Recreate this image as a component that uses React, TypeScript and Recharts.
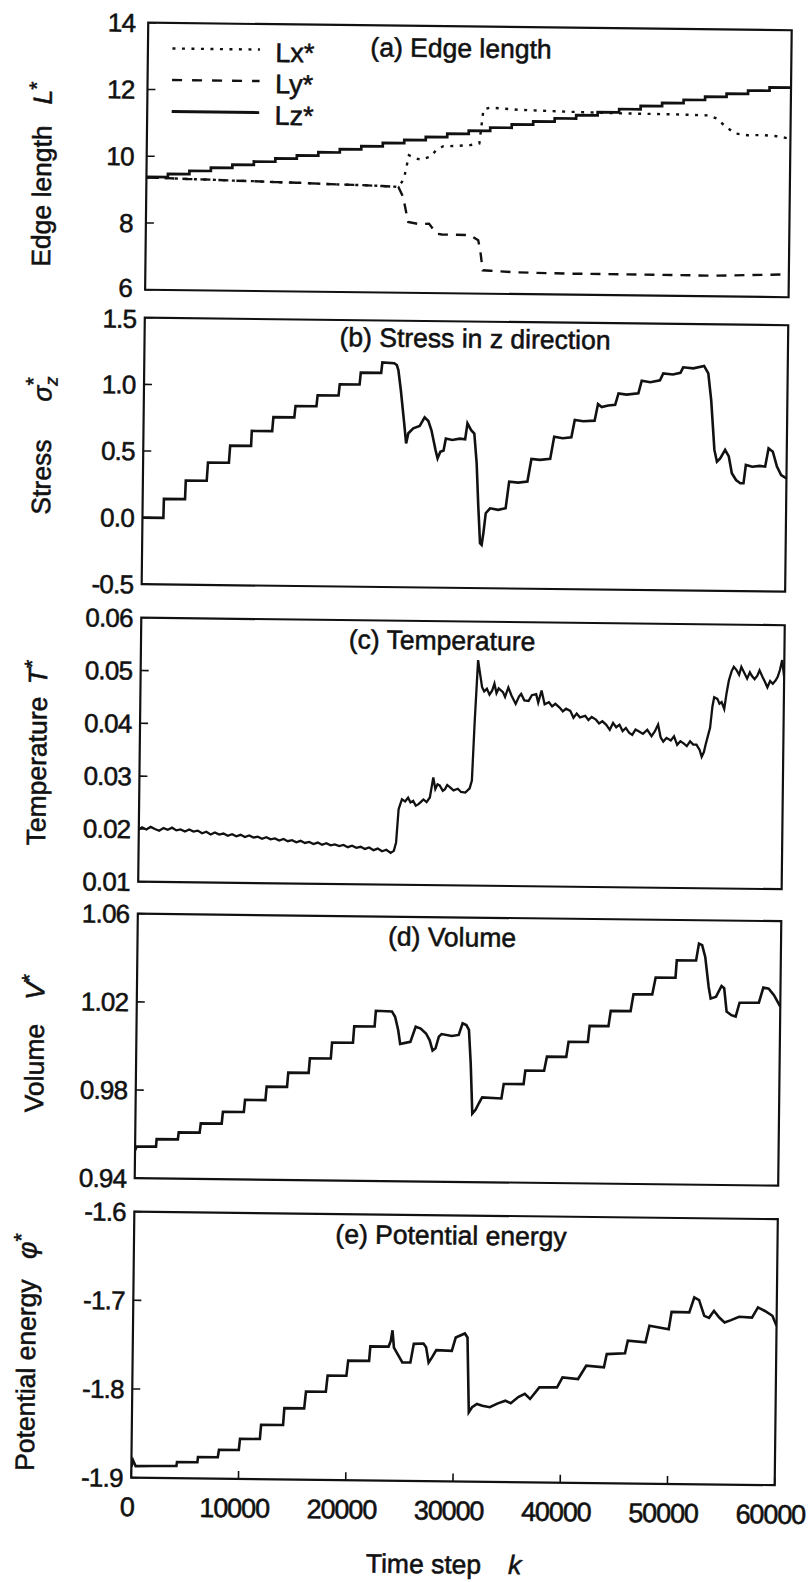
import React from 'react';
import { LineChart, Line, XAxis, YAxis, ReferenceArea, Legend } from 'recharts';

const FONT = '"Liberation Sans", Arial, Helvetica, sans-serif';
const INK = '#111';
const TXT_STROKE = 0.55;
const TICK_FS = 26;

const X_TICKS = [0, 10000, 20000, 30000, 40000, 50000, 60000];
const TICKS_A = [6, 8, 10, 12, 14];
const TICKS_B = [-0.5, 0, 0.5, 1.0, 1.5];
const TICKS_C = [0.01, 0.02, 0.03, 0.04, 0.05, 0.06];
const TICKS_D = [0.94, 0.98, 1.02, 1.06];
const TICKS_E = [-1.9, -1.8, -1.7, -1.6];

// (a) edge lengths
const LX: [number, number][] = [
  [0, 9.36], [2000, 9.35], [4000, 9.33], [6000, 9.32], [8000, 9.3], [10000, 9.29], [12000, 9.27],
  [14000, 9.26], [16000, 9.24], [18000, 9.22], [20000, 9.21], [22000, 9.19], [23500, 9.17],
  [24000, 9.4], [24450, 10.12], [25000, 10.04], [25550, 9.99], [26400, 10.08], [27000, 10.28],
  [27600, 10.4], [29000, 10.42], [30200, 10.45], [31000, 10.5], [31350, 11.52], [32000, 11.58],
  [34600, 11.52], [39400, 11.48], [44200, 11.45], [49000, 11.44], [52400, 11.42], [53100, 11.33],
  [53800, 11.13], [54800, 10.89], [56000, 10.84], [57300, 10.85], [58700, 10.82], [60000, 10.75],
];
const LY: [number, number][] = [
  [0, 9.36], [2000, 9.35], [4000, 9.33], [6000, 9.32], [8000, 9.3], [10000, 9.29], [12000, 9.27],
  [14000, 9.26], [16000, 9.24], [18000, 9.22], [20000, 9.21], [22000, 9.19], [23500, 9.17],
  [23950, 8.87], [24450, 8.12], [25500, 8.06], [26400, 8.08], [27100, 7.78], [27600, 7.76],
  [30200, 7.75], [31000, 7.6], [31200, 7.3], [31450, 6.7], [32200, 6.69], [34600, 6.65],
  [39400, 6.63], [44200, 6.63], [49000, 6.625], [53100, 6.62], [60000, 6.685],
];
const LZ: [number, number][] = [
  [0, 9.38], [2000, 9.48], [4000, 9.58], [6000, 9.68], [8000, 9.78], [10000, 9.88], [12000, 9.98],
  [14000, 10.08], [16000, 10.18], [18000, 10.28], [20000, 10.38], [22000, 10.48], [24000, 10.58],
  [26000, 10.68], [28000, 10.78], [30000, 10.88], [32000, 10.98], [34000, 11.08], [36000, 11.18],
  [38000, 11.28], [40000, 11.38], [42000, 11.48], [44000, 11.58], [46000, 11.68], [48000, 11.78],
  [50000, 11.88], [52000, 11.98], [54000, 12.08], [56000, 12.18], [58000, 12.28], [60000, 12.28],
];

// (b) stress
const STRESS: [number, number][] = [
  [0, 0.0], [1950, 0.0], [1980, 0.142], [3950, 0.142], [4000, 0.282], [5950, 0.282], [6050, 0.419],
  [8000, 0.419], [8100, 0.548], [10050, 0.548], [10100, 0.66], [12000, 0.66], [12100, 0.765],
  [14050, 0.765], [14150, 0.851], [16100, 0.851], [16200, 0.933], [18150, 0.933], [18250, 1.0175],
  [20100, 1.0175], [20200, 1.107], [22100, 1.107], [22200, 1.186], [23300, 1.18], [23550, 1.167],
  [23700, 1.13], [23950, 0.98], [24300, 0.73], [24500, 0.58], [24700, 0.656], [25150, 0.694],
  [25750, 0.712], [26200, 0.777], [26550, 0.75], [26850, 0.68], [27250, 0.533], [27450, 0.47],
  [27700, 0.52], [28000, 0.53], [28200, 0.62], [28800, 0.61], [29500, 0.62], [30000, 0.615],
  [30200, 0.736], [30550, 0.685], [30850, 0.66], [31100, 0.437], [31300, 0.112], [31500, -0.163],
  [31650, -0.175], [31800, -0.088], [32000, 0.063], [32400, 0.1], [33150, 0.089], [33850, 0.102],
  [34150, 0.302], [35000, 0.295], [35850, 0.304], [36200, 0.474], [37000, 0.468], [37950, 0.476],
  [38300, 0.643], [39100, 0.632], [39900, 0.64], [40200, 0.77], [41000, 0.762], [42050, 0.767],
  [42350, 0.892], [42700, 0.87], [43300, 0.882], [43950, 0.887], [44250, 0.974], [45000, 0.965],
  [46100, 0.976], [46400, 1.071], [47200, 1.06], [48100, 1.075], [48400, 1.128], [49300, 1.12],
  [50000, 1.134], [50250, 1.175], [51200, 1.168], [52200, 1.187], [52600, 1.132], [52900, 0.93],
  [53250, 0.558], [53500, 0.47], [53800, 0.495], [54250, 0.559], [54600, 0.51], [54900, 0.384],
  [55300, 0.334], [55700, 0.31], [56000, 0.31], [56200, 0.448], [56800, 0.435], [57500, 0.442],
  [58000, 0.437], [58300, 0.575], [58700, 0.55], [59100, 0.438], [59500, 0.375], [60000, 0.35],
];

// (c) temperature
const TEMP: [number, number][] = [
  [0, 0.0199], [300, 0.0203], [700, 0.0199], [1100, 0.0204], [1500, 0.02], [1900, 0.0197],
  [2300, 0.0202], [2700, 0.0199], [3100, 0.0203], [3500, 0.0198], [3900, 0.02], [4300, 0.0196],
  [4700, 0.02], [5100, 0.0196], [5500, 0.0198], [5900, 0.0193], [6300, 0.0196], [6700, 0.0191],
  [7100, 0.0195], [7500, 0.0191], [7900, 0.0193], [8300, 0.0189], [8700, 0.0192], [9100, 0.0188],
  [9500, 0.0191], [9900, 0.0187], [10300, 0.019], [10700, 0.0186], [11100, 0.0188], [11500, 0.0184],
  [11900, 0.0187], [12300, 0.0183], [12700, 0.0185], [13100, 0.0181], [13500, 0.0184], [13900, 0.018],
  [14300, 0.0182], [14700, 0.0178], [15100, 0.0181], [15500, 0.0177], [15900, 0.0179], [16300, 0.0175],
  [16700, 0.0178], [17100, 0.0174], [17500, 0.0177], [17900, 0.0173], [18300, 0.0175], [18700, 0.0172],
  [19100, 0.0174], [19500, 0.017], [19900, 0.0173], [20300, 0.0169], [20700, 0.0171], [21100, 0.0167],
  [21500, 0.017], [21900, 0.0165], [22300, 0.0168], [22700, 0.0163], [23100, 0.0166], [23500, 0.016],
  [23800, 0.0164], [24000, 0.018], [24200, 0.0243], [24500, 0.0262], [24800, 0.0258], [25070, 0.0265],
  [25300, 0.0256], [25550, 0.0259], [25800, 0.025], [26050, 0.0253], [26300, 0.0258], [26500, 0.0262],
  [26800, 0.0257], [27100, 0.0266], [27400, 0.0304], [27600, 0.0282], [27800, 0.0291], [28000, 0.0289],
  [28300, 0.0279], [28500, 0.0282], [28700, 0.029], [28950, 0.0286], [29300, 0.028], [29700, 0.0283],
  [30000, 0.0277], [30400, 0.0276], [30800, 0.0284], [31000, 0.0299], [31200, 0.0412], [31450, 0.0527],
  [31650, 0.0501], [31850, 0.0476], [32050, 0.0468], [32300, 0.0473], [32550, 0.0462], [32800, 0.047],
  [33000, 0.0483], [33200, 0.0465], [33400, 0.0474], [33800, 0.0467], [34000, 0.0458], [34300, 0.0476],
  [34600, 0.0461], [35000, 0.0445], [35300, 0.0459], [35500, 0.0464], [35800, 0.0452], [36200, 0.0451],
  [36500, 0.0462], [36900, 0.0464], [37100, 0.0448], [37400, 0.0471], [37700, 0.0445], [38100, 0.0449],
  [38400, 0.0441], [38700, 0.0446], [39100, 0.0439], [39400, 0.0432], [39700, 0.0437], [40100, 0.0433],
  [40400, 0.042], [40700, 0.0428], [41000, 0.0421], [41500, 0.0424], [41800, 0.0416], [42100, 0.0422],
  [42500, 0.0417], [42800, 0.041], [43100, 0.0414], [43450, 0.0408], [43800, 0.0398], [44100, 0.0411],
  [44400, 0.0403], [44700, 0.0408], [45000, 0.0396], [45300, 0.0402], [45600, 0.0393], [45900, 0.0389],
  [46200, 0.0399], [46500, 0.0396], [46900, 0.0391], [47300, 0.0399], [47700, 0.0387], [48000, 0.0396],
  [48300, 0.0409], [48550, 0.0385], [48800, 0.0377], [49100, 0.0384], [49500, 0.0379], [49800, 0.0387],
  [50100, 0.0371], [50400, 0.0378], [50700, 0.0374], [51000, 0.0369], [51300, 0.0378], [51600, 0.0372],
  [51900, 0.0372], [52200, 0.0362], [52400, 0.0349], [52600, 0.0358], [52750, 0.0372], [53000, 0.0392],
  [53150, 0.0404], [53350, 0.0445], [53500, 0.0462], [53800, 0.0459], [54000, 0.045], [54200, 0.0453],
  [54450, 0.044], [54650, 0.047], [54850, 0.0494], [55100, 0.0512], [55300, 0.052], [55550, 0.0514],
  [55800, 0.0505], [56000, 0.052], [56300, 0.0508], [56550, 0.0498], [56800, 0.051], [57000, 0.0503],
  [57250, 0.0497], [57500, 0.0504], [57700, 0.0514], [58000, 0.0501], [58200, 0.0493], [58450, 0.0482],
  [58700, 0.0494], [58950, 0.0489], [59200, 0.0495], [59400, 0.0502], [59600, 0.0515], [59800, 0.0534],
  [60000, 0.0502],
];

// (d) volume
const VOLUME: [number, number][] = [
  [0, 0.9527], [150, 0.9544], [1950, 0.9544], [2000, 0.9578], [3980, 0.9578], [4050, 0.961],
  [6000, 0.961], [6100, 0.9652], [8050, 0.9652], [8150, 0.9706], [10100, 0.9706], [10200, 0.9761],
  [12100, 0.9761], [12200, 0.9822], [14100, 0.9822], [14200, 0.9887], [16100, 0.9887], [16200, 0.9953],
  [18150, 0.9953], [18250, 1.0026], [20200, 1.0026], [20300, 1.0101], [22200, 1.0101], [22300, 1.0172],
  [23800, 1.017], [24100, 1.0146], [24400, 1.0086], [24600, 1.0023], [25070, 1.0028], [25550, 1.0033],
  [26030, 1.0102], [26500, 1.0094], [27000, 1.0072], [27350, 1.0041], [27630, 0.9995], [27900, 1.0005],
  [28200, 1.0058], [28450, 1.007], [29400, 1.0062], [30050, 1.0067], [30400, 1.012], [30750, 1.0112],
  [31000, 1.009], [31200, 0.9938], [31400, 0.9711], [31700, 0.9728], [32000, 0.9758], [32300, 0.9785],
  [34100, 0.9781], [34300, 0.9847], [36150, 0.9847], [36300, 0.9909], [38050, 0.9909], [38300, 0.9973],
  [40100, 0.9973], [40300, 1.0042], [42100, 1.0042], [42250, 1.0115], [44000, 1.0115], [44200, 1.0184],
  [46050, 1.0184], [46300, 1.0261], [48050, 1.0261], [48350, 1.0338], [50200, 1.0338], [50300, 1.0417],
  [52100, 1.0417], [52350, 1.0494], [52650, 1.0487], [52950, 1.0434], [53300, 1.0298], [53500, 1.0245],
  [54000, 1.0254], [54500, 1.0303], [54750, 1.0293], [55000, 1.0187], [55450, 1.0171], [55850, 1.0165],
  [56200, 1.0228], [58000, 1.0229], [58400, 1.0298], [58900, 1.0293], [59400, 1.0264], [60000, 1.0212],
];

// (e) potential energy
const ENERGY: [number, number][] = [
  [0, -1.8879], [150, -1.8803], [400, -1.887], [2000, -1.8866], [4200, -1.8863], [4250, -1.8818],
  [6150, -1.8818], [6200, -1.8759], [8050, -1.8759], [8150, -1.8674], [10000, -1.8674], [10100, -1.8547],
  [11950, -1.8547], [12050, -1.8387], [14100, -1.8387], [14200, -1.8196], [16050, -1.8196], [16200, -1.8006],
  [18050, -1.8006], [18200, -1.7823], [19950, -1.7823], [20100, -1.7652], [22050, -1.7652], [22150, -1.7488],
  [23850, -1.7488], [24050, -1.7425], [24200, -1.7304], [24350, -1.7499], [24700, -1.7573], [25150, -1.7666],
  [25900, -1.7664], [26200, -1.7454], [27100, -1.7449], [27350, -1.7492], [27600, -1.7662], [27900, -1.7607],
  [28300, -1.7522], [29750, -1.7528], [30100, -1.7377], [30950, -1.733], [31200, -1.7375], [31400, -1.8218],
  [31700, -1.8161], [32150, -1.8123], [32650, -1.8143], [33350, -1.8158], [34100, -1.8114], [34800, -1.8083],
  [35300, -1.811], [36000, -1.804], [36600, -1.8003], [37100, -1.806], [37950, -1.7928], [39600, -1.7926],
  [40100, -1.7813], [41550, -1.7829], [42300, -1.7678], [43950, -1.7694], [44200, -1.7544], [45900, -1.7533],
  [46150, -1.7391], [47800, -1.7407], [48150, -1.7219], [49950, -1.7255], [50200, -1.7059], [51850, -1.7063],
  [52300, -1.6894], [52750, -1.6923], [53250, -1.71], [53700, -1.7122], [54150, -1.7042], [54650, -1.7117],
  [55150, -1.7172], [55750, -1.7145], [56500, -1.7106], [57700, -1.7113], [58250, -1.6998], [58900, -1.7037],
  [59600, -1.709], [60000, -1.7202],
];

const rows = (arr: [number, number][]) => arr.map(([k, v]) => ({ k, v }));

const PLOT_LEFT = 148.5;
const PLOT_RIGHT = 792;
const CW = 830;
const PAD = 26;

const YTick = (props: any) => {
  const { x, y, payload, fmt, gap, shift } = props;
  const sh = shift ? shift(payload.value) : 0;
  return (
    <g>
      <line x1={x} y1={y} x2={x + 8} y2={y} stroke={INK} strokeWidth={1.6} />
      <text
        x={x - gap}
        y={y + sh}
        dy="0.36em"
        textAnchor="end"
        fontFamily={FONT}
        fontSize={TICK_FS}
        letterSpacing={-0.8}
        fill={INK}
        stroke={INK}
        strokeWidth={TXT_STROKE}
      >
        {fmt(payload.value)}
      </text>
    </g>
  );
};

const XTick = (props: any) => {
  const { x, y, payload, show } = props;
  return (
    <g>
      <line x1={x} y1={y} x2={x} y2={y - 8} stroke={INK} strokeWidth={1.6} />
      {show ? (
        <text
          x={x - 4}
          y={y + 38.5}
          textAnchor="middle"
          fontFamily={FONT}
          fontSize={27}
          letterSpacing={-1.1}
          fill={INK}
          stroke={INK}
          strokeWidth={TXT_STROKE}
        >
          {String(payload.value)}
        </text>
      ) : null}
    </g>
  );
};

const LEGEND_ITEMS = [
  { name: 'Lx*', dash: '3 6.5', w: 2.4 },
  { name: 'Ly*', dash: '10 10', w: 2.4 },
  { name: 'Lz*', dash: undefined, w: 2.8 },
];
const LEGEND_ROWS = [10.5, 42, 73.5];

const LegendContent = () => (
  <svg width={160} height={100} style={{ overflow: 'visible', display: 'block' }}>
    {LEGEND_ITEMS.map((it, i) => (
      <g key={it.name}>
        <line x1={0} x2={87.5} y1={LEGEND_ROWS[i]} y2={LEGEND_ROWS[i]} stroke={INK} strokeWidth={it.w} strokeDasharray={it.dash} />
        <text x={103} y={LEGEND_ROWS[i]} dy="0.45em" fontFamily={FONT} fontSize={27} fill={INK} stroke={INK} strokeWidth={TXT_STROKE}>
          {it.name}
        </text>
      </g>
    ))}
  </svg>
);

type PanelProps = {
  top: number;
  bottom: number;
  domain: [number, number];
  ticks: number[];
  fmt: (v: number) => string;
  gap: number;
  shift?: (v: number) => number;
  showX?: boolean;
  legend?: boolean;
  children?: React.ReactNode;
};

const Panel = ({ top, bottom, domain, ticks, fmt, gap, shift, showX, legend, children }: PanelProps) => {
  const plotH = bottom - top;
  const XH = showX ? 50 : 0;
  const H = plotH + PAD + (showX ? XH : PAD);
  return (
    <div style={{ position: 'absolute', left: 0, top: top - PAD }}>
      <LineChart
        width={CW}
        height={H}
        margin={{ top: PAD, right: CW - PLOT_RIGHT, bottom: showX ? 0 : PAD, left: 0 }}
        style={{ overflow: 'visible' }}
      >
        <XAxis
          dataKey="k"
          type="number"
          domain={[0, 60000]}
          ticks={X_TICKS}
          interval={0}
          allowDataOverflow
          axisLine={false}
          tickLine={false}
          tickSize={0}
          tickMargin={0}
          height={XH}
          tick={(p: any) => <XTick {...p} show={!!showX} />}
        />
        <YAxis
          type="number"
          domain={domain}
          ticks={ticks}
          interval={0}
          allowDataOverflow
          axisLine={false}
          tickLine={false}
          tickSize={0}
          tickMargin={0}
          width={PLOT_LEFT}
          tick={(p: any) => <YTick {...p} fmt={fmt} gap={gap} shift={shift} />}
        />
        <ReferenceArea x1={0} x2={60000} y1={domain[0]} y2={domain[1]} fill="none" stroke={INK} strokeWidth={2.2} ifOverflow="visible" />
        {children}
        {legend ? (
          <Legend
            layout="vertical"
            align="center"
            verticalAlign="middle"
            wrapperStyle={{ left: 172.5, top: PAD + 15, width: 160, height: 100 }}
            content={LegendContent}
          />
        ) : null}
      </LineChart>
    </div>
  );
};

const TITLES = [
  { text: '(a) Edge length', x: 461.6, y: 52 },
  { text: '(b) Stress in z direction', x: 479, y: 342.2 },
  { text: '(c) Temperature', x: 449.5, y: 644.3 },
  { text: '(d) Volume', x: 463, y: 940.9 },
  { text: '(e) Potential energy', x: 465.5, y: 1239.2 },
];

const Y_TITLES = [
  { name: 'Edge length', cy: 195.5, sy: 92.5, bx: 53, sym: 'L' },
  { name: 'Stress', cy: 476.5, sy: 388.5, bx: 56, sym: 'sigma' },
  { name: 'Temperature', cy: 770.6, sy: 671.6, bx: 55, sym: 'T' },
  { name: 'Volume', cy: 1067.6, sy: 986.6, bx: 56, sym: 'V' },
  { name: 'Potential energy', cy: 1374.7, sy: 1245.7, bx: 51, sym: 'φ' },
];

const textProps = {
  fontFamily: FONT,
  fontSize: 26.5,
  fill: INK,
  stroke: INK,
  strokeWidth: TXT_STROKE,
};

const Symbol = ({ sym, x, y }: { sym: string; x: number; y: number }) => {
  if (sym === 'sigma') {
    return (
      <text x={x} y={y} textAnchor="middle" transform={`rotate(-90 ${x} ${y})`} {...textProps}>
        <tspan fontStyle="italic">σ</tspan>
        <tspan fontStyle="italic" fontSize={18} dy={6}>z</tspan>
        <tspan fontSize={21} dx={-9} dy={-17}>*</tspan>
      </text>
    );
  }
  return (
    <text x={x} y={y} textAnchor="middle" transform={`rotate(-90 ${x} ${y})`} {...textProps}>
      <tspan fontStyle="italic">{sym}</tspan>
      <tspan fontSize={21} dy={-8}>*</tspan>
    </text>
  );
};

const Overlay = () => (
  <svg width={CW} height={1600} style={{ position: 'absolute', left: 0, top: 0, overflow: 'visible', pointerEvents: 'none' }}>
    {TITLES.map((t) => (
      <text key={t.text} x={t.x} y={t.y} textAnchor="middle" {...textProps}>
        {t.text}
      </text>
    ))}
    {Y_TITLES.map((t) => (
      <g key={t.name}>
        <text x={t.bx} y={t.cy} textAnchor="middle" transform={`rotate(-90 ${t.bx} ${t.cy})`} {...textProps}>
          {t.name}
        </text>
        <Symbol sym={t.sym} x={t.bx} y={t.sy} />
      </g>
    ))}
    <text x={441.8} y={1568} textAnchor="middle" {...textProps}>
      Time step
    </text>
    <text x={533} y={1568} textAnchor="middle" fontStyle="italic" {...textProps}>
      k
    </text>
  </svg>
);

const f0 = (v: number) => String(v);
const f1 = (v: number) => v.toFixed(1);
const f2 = (v: number) => v.toFixed(2);
const shiftA = (v: number) => (v === 6 ? -2 : 0);
const shiftB = (v: number) => (v === 1.5 ? 1 : 0);

export default function App() {
  return (
    <div style={{ position: 'absolute', left: 0, top: 0, width: 809, height: 1582, overflow: 'hidden', background: '#fff' }}>
      <div style={{ position: 'absolute', left: 0, top: 0, width: CW, height: 1600, transform: 'rotate(0.67deg)', transformOrigin: '0 0' }}>
        <Panel top={21} bottom={288} domain={[6, 14]} ticks={TICKS_A} fmt={f0} gap={13} shift={shiftA} legend>
          <Line data={rows(LX)} dataKey="v" name="Lx*" type="linear" stroke={INK} strokeWidth={2.4} strokeDasharray="3 6.5" dot={false} isAnimationActive={false} />
          <Line data={rows(LY)} dataKey="v" name="Ly*" type="linear" stroke={INK} strokeWidth={2.4} strokeDasharray="10 8" dot={false} isAnimationActive={false} />
          <Line data={rows(LZ)} dataKey="v" name="Lz*" type="stepAfter" stroke={INK} strokeWidth={2.7} dot={false} isAnimationActive={false} />
        </Panel>
        <Panel top={316} bottom={582.5} domain={[-0.5, 1.5]} ticks={TICKS_B} fmt={f1} gap={8.5} shift={shiftB}>
          <Line data={rows(STRESS)} dataKey="v" name="σz*" type="linear" stroke={INK} strokeWidth={2.6} dot={false} isAnimationActive={false} />
        </Panel>
        <Panel top={616} bottom={880} domain={[0.01, 0.06]} ticks={TICKS_C} fmt={f2} gap={8.5}>
          <Line data={rows(TEMP)} dataKey="v" name="T*" type="linear" stroke={INK} strokeWidth={2.3} dot={false} isAnimationActive={false} />
        </Panel>
        <Panel top={912} bottom={1176.5} domain={[0.94, 1.06]} ticks={TICKS_D} fmt={f2} gap={8.5}>
          <Line data={rows(VOLUME)} dataKey="v" name="V*" type="linear" stroke={INK} strokeWidth={2.6} dot={false} isAnimationActive={false} />
        </Panel>
        <Panel top={1209.5} bottom={1475.5} domain={[-1.9, -1.6]} ticks={TICKS_E} fmt={f1} gap={8.5} showX>
          <Line data={rows(ENERGY)} dataKey="v" name="φ*" type="linear" stroke={INK} strokeWidth={2.6} dot={false} isAnimationActive={false} />
        </Panel>
        <Overlay />
      </div>
    </div>
  );
}
